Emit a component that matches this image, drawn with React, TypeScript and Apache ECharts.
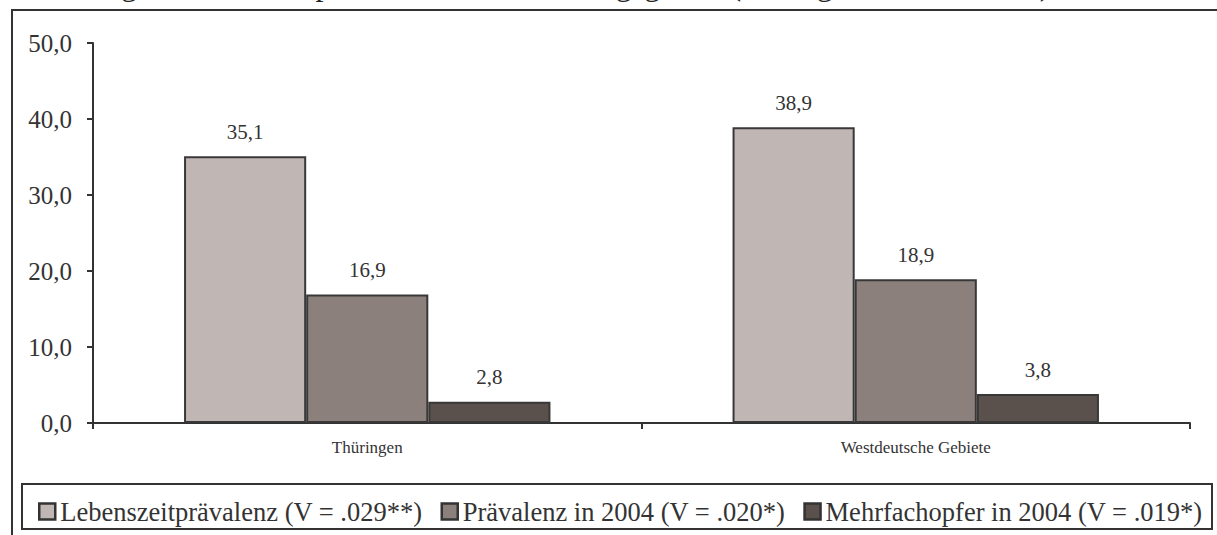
import React, { useEffect, useRef } from "react";
import * as echarts from "echarts";

const TITLE = "Abbildung 5.1: Gesamtopferraten nach Erhebungsgebiet (in %, gewichtete Daten)";
const categories = ["Thüringen", "Westdeutsche Gebiete"];
const seriesNames = [
  "Lebenszeitprävalenz (V = .029**)",
  "Prävalenz in 2004 (V = .020*)",
  "Mehrfachopfer in 2004 (V = .019*)",
];
const lebenszeit = [35.1, 38.9];
const praevalenz2004 = [16.9, 18.9];
const mehrfach2004 = [2.8, 3.8];
const seriesColors = ["#c0b7b4", "#8c807c", "#5a504c"];

const FONT = "'Liberation Serif', 'Times New Roman', serif";
const fmt = (v: number) => v.toFixed(1).replace(".", ",");

export default function App() {
  const ref = useRef<HTMLDivElement>(null);
  useEffect(() => {
    if (!ref.current) return;
    const chart = echarts.init(ref.current, null, { renderer: "svg" });
    const values = [lebenszeit, praevalenz2004, mehrfach2004];
    chart.setOption({
      animation: false,
      backgroundColor: "#ffffff",
      grid: { left: 93, right: 27, top: 43, bottom: 112, containLabel: false },
      legend: {
        data: seriesNames,
        left: 33,
        top: 493,
        padding: 5,
        icon: "rect",
        itemWidth: 16,
        itemHeight: 16,
        itemGap: 18,
        itemStyle: { borderColor: "#333333", borderWidth: 2.5 },
        textStyle: { fontFamily: FONT, fontSize: 26.5, color: "#333" },
      },
      xAxis: {
        type: "category",
        data: categories,
        boundaryGap: true,
        axisLine: { show: true, lineStyle: { color: "#333", width: 2 } },
        axisTick: { show: true, length: 6, lineStyle: { color: "#333", width: 2 } },
        axisLabel: { fontFamily: FONT, fontSize: 17, color: "#333", margin: 16 },
      },
      yAxis: {
        type: "value",
        min: 0,
        max: 50,
        interval: 10,
        axisLine: { show: true, lineStyle: { color: "#333", width: 2 } },
        axisTick: { show: true, length: 6, lineStyle: { color: "#333", width: 2 } },
        splitLine: { show: false },
        axisLabel: {
          fontFamily: FONT,
          fontSize: 25,
          color: "#333",
          margin: 21,
          formatter: (v: number) => fmt(v),
        },
      },
      series: seriesNames.map((name, i) => ({
        name,
        type: "bar",
        data: values[i],
        barGap: "0%",
        barCategoryGap: "33.2%",
        itemStyle: { color: seriesColors[i], borderColor: "#383838", borderWidth: 2 },
        label: {
          show: true,
          position: "top",
          distance: 14,
          fontFamily: FONT,
          fontSize: 21,
          color: "#333",
          formatter: (p: any) => fmt(p.value),
        },
      })),
      graphic: [
        {
          type: "text",
          left: 0,
          top: -32,
          style: { text: TITLE, font: `32px ${FONT}`, fill: "#222" },
          silent: true,
        },
        {
          type: "rect",
          shape: { x: 12, y: 10, width: 1300, height: 600 },
          style: { fill: "none", stroke: "#333", lineWidth: 2 },
          silent: true,
        },
        {
          type: "rect",
          shape: { x: 22, y: 484, width: 1190, height: 45 },
          style: { fill: "none", stroke: "#333", lineWidth: 2 },
          silent: true,
        },
      ],
    });
    return () => chart.dispose();
  }, []);
  return (
    <div
      ref={ref}
      style={{ position: "fixed", left: 0, top: 0, width: 1217, height: 535 }}
    />
  );
}
